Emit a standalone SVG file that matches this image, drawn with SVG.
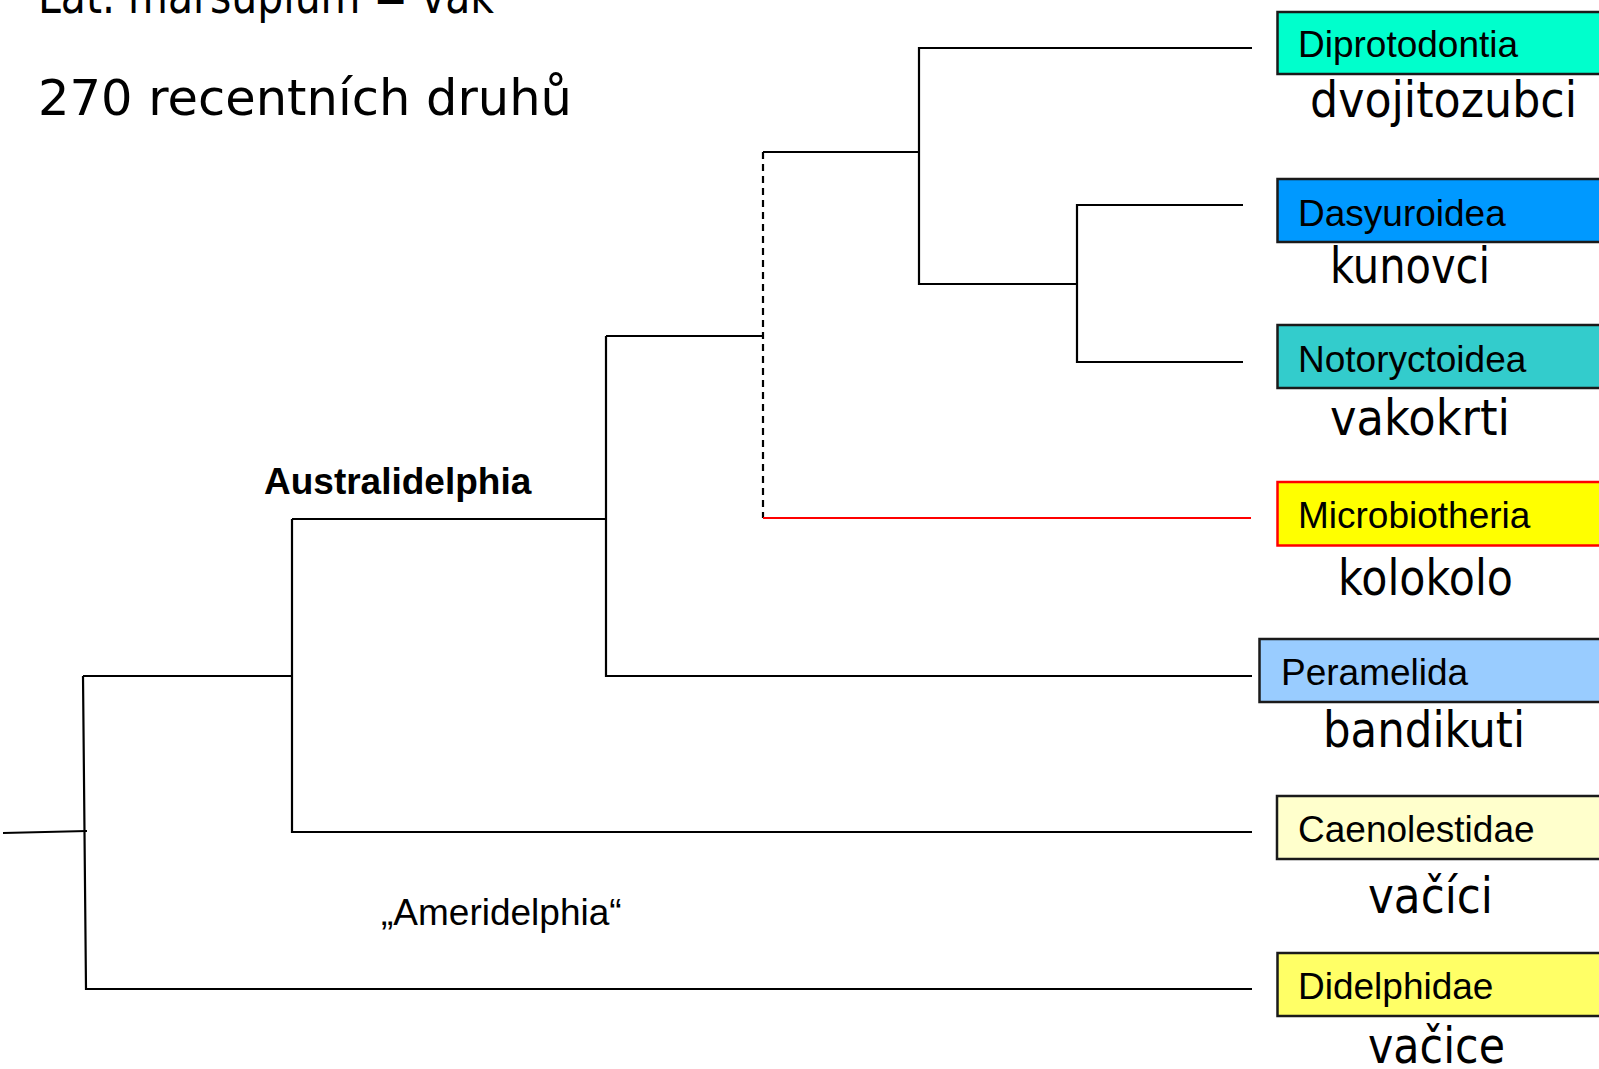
<svg xmlns="http://www.w3.org/2000/svg" width="1599" height="1069" viewBox="0 0 1599 1069">
  <style>
    .br { fill: none; stroke: #000; stroke-width: 2.2; }
    .dash { stroke-dasharray: 7 5; }
    .red { stroke: #ff0000; }
    .box { stroke: #1a1a1a; stroke-width: 2.5; }
    .lbl { font-family: "Liberation Sans", Arial, sans-serif; font-size: 37px; fill: #000; }
    .bold { font-weight: bold; }
    .cz { font-family: "Comic Sans MS", "DejaVu Sans", sans-serif; font-size: 50px; fill: #000; }
  </style>
  <rect width="1599" height="1069" fill="#fff"/>

  <!-- heading -->
  <g id="heading">
    <text class="cz" x="38" y="13" textLength="456" lengthAdjust="spacingAndGlyphs">Lat. marsupium = vak</text>
    <text class="cz" x="38" y="115" textLength="534" lengthAdjust="spacingAndGlyphs">270 recentních druhů</text>
  </g>

  <!-- tree branches -->
  <g id="connectors">
    <path class="br" d="M3,833 L87,831"/>
    <path class="br" d="M83,676 L86,989 L1252,989"/>
    <path class="br" d="M83,676 L292,676"/>
    <path class="br" d="M292,519 L292,832 L1252,832"/>
    <path class="br" d="M292,519 L606,519"/>
    <path class="br" d="M606,336 L606,676 L1252,676"/>
    <path class="br" d="M606,336 L763,336"/>
    <path class="br dash" d="M763,152 L763,518"/>
    <path class="br red" d="M763,518 L1251,518"/>
    <path class="br" d="M763,152 L919,152"/>
    <path class="br" d="M1252,48 L919,48 L919,284 L1077,284"/>
    <path class="br" d="M1243,205 L1077,205 L1077,362 L1243,362"/>
  </g>

  <!-- clade labels -->
  <g id="australidelphia">
    <text class="lbl bold" x="264" y="494">Australidelphia</text>
  </g>
  <g id="ameridelphia">
    <text class="lbl" x="381" y="925">„Ameridelphia“</text>
  </g>

  <!-- terminal taxa -->
  <g id="diprotodontia">
    <rect class="box" x="1277.5" y="12" width="340" height="62" fill="#00ffcc"/>
    <text class="lbl" x="1298" y="57">Diprotodontia</text>
    <text class="cz" x="1310" y="117" textLength="267" lengthAdjust="spacingAndGlyphs">dvojitozubci</text>
  </g>
  <g id="dasyuroidea">
    <rect class="box" x="1277.5" y="179" width="340" height="63" fill="#0099ff"/>
    <text class="lbl" x="1298" y="226">Dasyuroidea</text>
    <text class="cz" x="1330" y="283" textLength="160" lengthAdjust="spacingAndGlyphs">kunovci</text>
  </g>
  <g id="notoryctoidea">
    <rect class="box" x="1277.5" y="325" width="340" height="63" fill="#33cccc"/>
    <text class="lbl" x="1298" y="372">Notoryctoidea</text>
    <text class="cz" x="1330" y="435" textLength="180" lengthAdjust="spacingAndGlyphs">vakokrti</text>
  </g>
  <g id="microbiotheria">
    <rect class="box" x="1277.5" y="482" width="340" height="63.5" fill="#ffff00" style="stroke:#ff0000"/>
    <text class="lbl" x="1298" y="528">Microbiotheria</text>
    <text class="cz" x="1338" y="595" textLength="175" lengthAdjust="spacingAndGlyphs">kolokolo</text>
  </g>
  <g id="peramelida">
    <rect class="box" x="1259.5" y="639" width="360" height="63" fill="#99ccff"/>
    <text class="lbl" x="1281" y="685">Peramelida</text>
    <text class="cz" x="1323" y="747" textLength="202" lengthAdjust="spacingAndGlyphs">bandikuti</text>
  </g>
  <g id="caenolestidae">
    <rect class="box" x="1277" y="796" width="340" height="63" fill="#ffffcc"/>
    <text class="lbl" x="1298" y="842">Caenolestidae</text>
    <text class="cz" x="1368" y="913" textLength="125" lengthAdjust="spacingAndGlyphs">vačíci</text>
  </g>
  <g id="didelphidae">
    <rect class="box" x="1277.5" y="953" width="340" height="63" fill="#ffff66"/>
    <text class="lbl" x="1298" y="999">Didelphidae</text>
    <text class="cz" x="1368" y="1063" textLength="137" lengthAdjust="spacingAndGlyphs">vačice</text>
  </g>
</svg>
